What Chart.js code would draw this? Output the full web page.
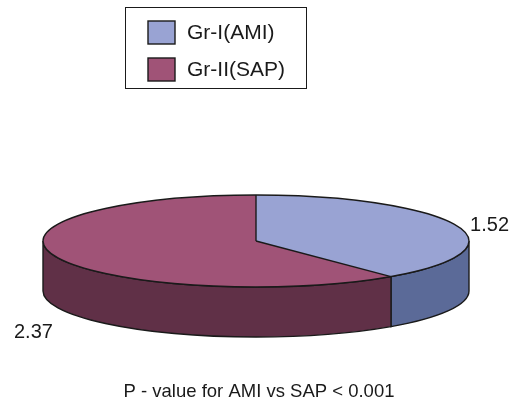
<!DOCTYPE html>
<html>
<head>
<meta charset="utf-8">
<script src="https://cdn.jsdelivr.net/npm/chart.js@4.4.0/dist/chart.umd.min.js"></script>
<style>
  body { margin: 0; background: #fff; }
  canvas { display: block; }
</style>
</head>
<body>
<canvas id="c" width="510" height="404"></canvas>
<script>
// data
const categories = ['Gr-I(AMI)', 'Gr-II(SAP)'];
const values = [1.52, 2.37];
const topColors = ['#99a3d3', '#a05377'];
const sideColors = ['#5b6a98', '#603047'];
const footnote = 'P - value for AMI vs SAP < 0.001';

// look of the fake 3d disc
const RX = 213, RY = 46, DEPTH = 50;
const FAMILY = '"Liberation Sans", Arial, sans-serif';
const labelOffsets = [[33, 0], [-22, 26]];

const pie3d = {
  id: 'pie3d',
  beforeDatasetsDraw(chart) {
    const ctx = chart.ctx;
    const arcs = chart.getDatasetMeta(0).data;
    const cx = arcs[0].x, cy = arcs[0].y, r = arcs[0].outerRadius;
    // side walls, only the front half can be seen
    arcs.forEach((arc, i) => {
      const lo = Math.max(arc.startAngle, 0);
      const hi = Math.min(arc.endAngle, Math.PI);
      if (hi <= lo) return;
      ctx.beginPath();
      ctx.ellipse(cx, cy, RX, RY, 0, lo, hi);
      ctx.lineTo(cx + RX * Math.cos(hi), cy + DEPTH + RY * Math.sin(hi));
      ctx.ellipse(cx, cy + DEPTH, RX, RY, 0, hi, lo, true);
      ctx.closePath();
      ctx.fillStyle = sideColors[i];
      ctx.fill();
      ctx.lineWidth = 1.4;
      ctx.strokeStyle = '#1a1a1a';
      ctx.stroke();
    });
    // squash the library's pie into the top face
    ctx.save();
    ctx.translate(cx, cy);
    ctx.scale(RX / r, RY / r);
    ctx.translate(-cx, -cy);
  },
  afterDatasetsDraw(chart) {
    const ctx = chart.ctx;
    ctx.restore();
    const arcs = chart.getDatasetMeta(0).data;
    const cx = arcs[0].x, cy = arcs[0].y;
    ctx.save();
    ctx.lineWidth = 1.4;
    ctx.strokeStyle = '#1a1a1a';
    ctx.beginPath();
    ctx.ellipse(cx, cy, RX, RY, 0, 0, Math.PI * 2);
    ctx.stroke();
    arcs.forEach(arc => {
      ctx.beginPath();
      ctx.moveTo(cx, cy);
      ctx.lineTo(cx + RX * Math.cos(arc.startAngle), cy + RY * Math.sin(arc.startAngle));
      ctx.stroke();
    });
    // value labels
    ctx.font = '20px ' + FAMILY;
    ctx.fillStyle = '#1a1a1a';
    ctx.textAlign = 'center';
    ctx.textBaseline = 'middle';
    arcs.forEach((arc, i) => {
      const mid = (arc.startAngle + arc.endAngle) / 2;
      const s = Math.sin(mid);
      const x = cx + RX * Math.cos(mid) + labelOffsets[i][0];
      const y = cy + RY * s + (s > 0 ? DEPTH : 0) + labelOffsets[i][1];
      ctx.fillText(values[i].toFixed(2), x, y);
    });
    ctx.restore();
  },
  afterDraw(chart) {
    const ctx = chart.ctx;
    ctx.save();
    // legend box
    ctx.strokeStyle = '#1a1a1a';
    ctx.lineWidth = 1;
    ctx.strokeRect(125.5, 7.5, 181, 81);
    ctx.font = '21px ' + FAMILY;
    ctx.textAlign = 'left';
    ctx.textBaseline = 'middle';
    categories.forEach((lab, i) => {
      const y = 21 + i * 37;
      ctx.fillStyle = topColors[i];
      ctx.fillRect(148, y, 27, 23);
      ctx.lineWidth = 1.4;
      ctx.strokeRect(148, y, 27, 23);
      ctx.fillStyle = '#1a1a1a';
      ctx.fillText(lab, 187, y + 12);
    });
    // footnote
    ctx.font = '18.5px ' + FAMILY;
    ctx.textAlign = 'center';
    ctx.fillText(footnote, 259, 392);
    ctx.restore();
  }
};

new Chart(document.getElementById('c'), {
  type: 'pie',
  data: {
    labels: categories,
    datasets: [{
      data: values,
      backgroundColor: topColors,
      borderWidth: 0,
      clip: false
    }]
  },
  options: {
    responsive: false,
    animation: false,
    layout: { padding: { left: 43, right: 41, top: 78, bottom: 0 } },
    plugins: { legend: { display: false }, tooltip: { enabled: false } }
  },
  plugins: [pie3d]
});
</script>
</body>
</html>
